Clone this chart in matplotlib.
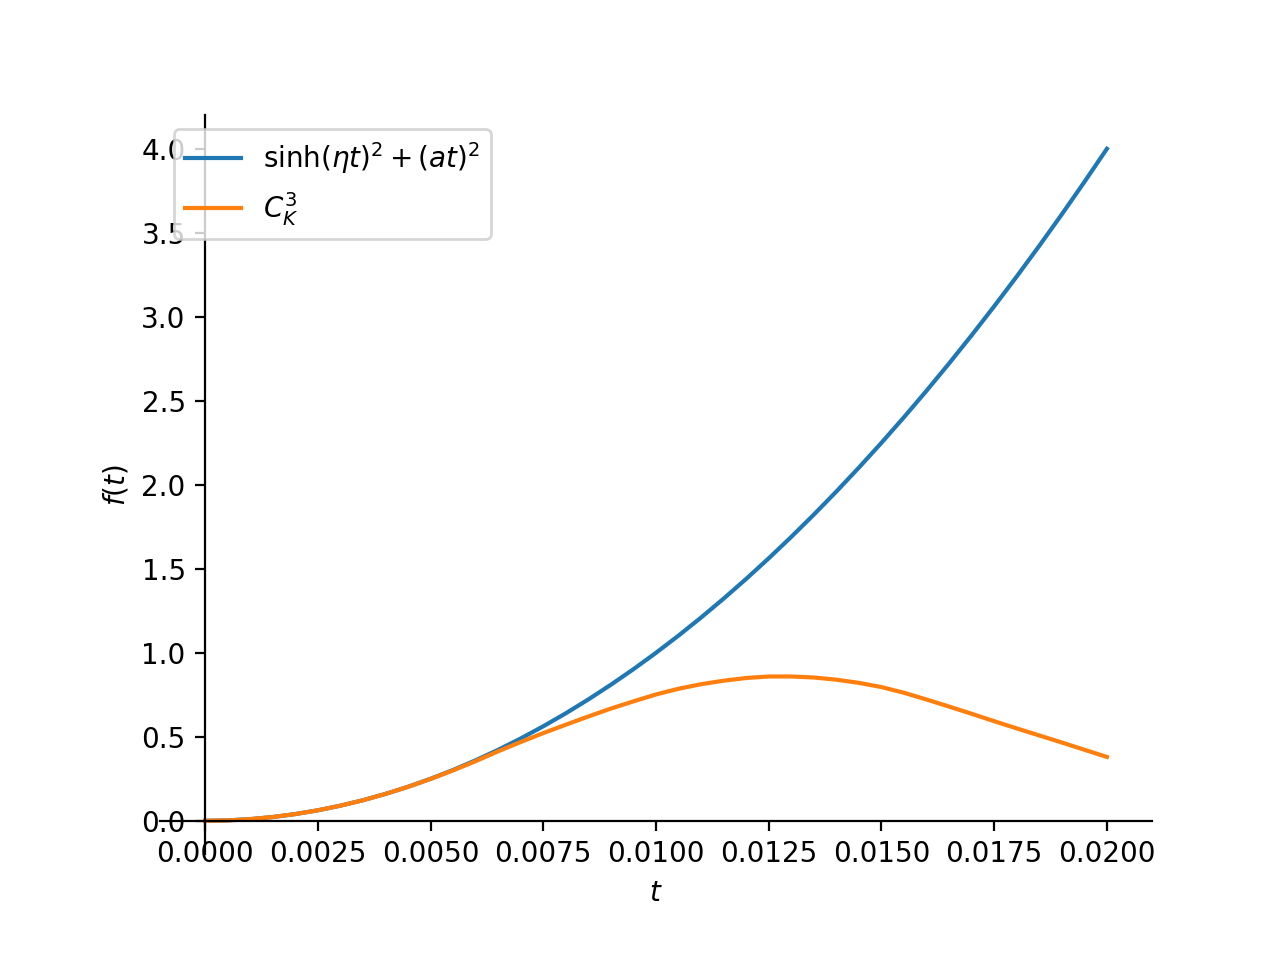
import matplotlib
matplotlib.use("Agg")
import matplotlib.pyplot as plt

# valeurs lues sur l'image, pas de 0.0005
t = [0.0000, 0.0005, 0.0010, 0.0015, 0.0020, 0.0025, 0.0030, 0.0035, 0.0040, 0.0045,
     0.0050, 0.0055, 0.0060, 0.0065, 0.0070, 0.0075, 0.0080, 0.0085, 0.0090, 0.0095,
     0.0100, 0.0105, 0.0110, 0.0115, 0.0120, 0.0125, 0.0130, 0.0135, 0.0140, 0.0145,
     0.0150, 0.0155, 0.0160, 0.0165, 0.0170, 0.0175, 0.0180, 0.0185, 0.0190, 0.0195,
     0.0200]
f_sinh = [0.0, 0.0025, 0.01, 0.0225, 0.04, 0.0625, 0.09, 0.1225, 0.16, 0.2025,
          0.25, 0.3025, 0.36, 0.4225, 0.49, 0.5625, 0.64, 0.7225, 0.81, 0.9025,
          1.00, 1.1025, 1.21, 1.3225, 1.44, 1.5625, 1.69, 1.8225, 1.96, 2.1025,
          2.25, 2.4025, 2.56, 2.7225, 2.89, 3.0625, 3.24, 3.4225, 3.61, 3.8025,
          4.00]
f_ck = [0.0, 0.0025, 0.01, 0.0225, 0.04, 0.0625, 0.09, 0.122, 0.16, 0.202,
        0.249, 0.30, 0.355, 0.414, 0.469, 0.522, 0.572, 0.621, 0.668, 0.711,
        0.752, 0.786, 0.813, 0.834, 0.85, 0.859, 0.859, 0.853, 0.84, 0.821,
        0.796, 0.762, 0.722, 0.68, 0.637, 0.593, 0.55, 0.508, 0.466, 0.423,
        0.38]

fig, ax = plt.subplots(figsize=(6.4, 4.8), dpi=200)
ax.plot(t, f_sinh, label=r"$\sinh(\eta t)^{2} + (a t)^{2}$")
ax.plot(t, f_ck, label=r"$C_{K}^{3}$")

ax.spines['left'].set_position('zero')
ax.spines['bottom'].set_position('zero')
ax.spines['right'].set_visible(False)
ax.spines['top'].set_visible(False)
ax.xaxis.set_ticks_position('bottom')
ax.yaxis.set_ticks_position('left')

ax.set_xlabel(r"$t$")
ax.set_ylabel(r"$f(t)$")
ax.legend(loc='upper left')

fig.savefig("out.png")
